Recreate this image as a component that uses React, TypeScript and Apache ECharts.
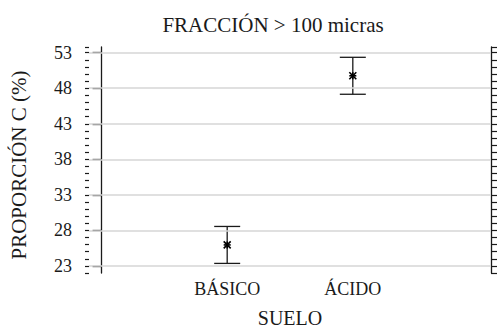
import React, { useEffect, useRef } from "react";
import * as echarts from "echarts";

const categories = ["BÁSICO", "ÁCIDO"];
const categoryPositions = [1, 2];
const means = [25.95, 49.75];
const errors = [2.6, 2.6];
const majorTicks = [23, 28, 33, 38, 43, 48, 53];

const FONT = "Liberation Serif";
const INK = "#1a1a1a";

export default function App() {
  const ref = useRef<HTMLDivElement>(null);
  useEffect(() => {
    if (!ref.current) return;
    const chart = echarts.init(ref.current, undefined, { renderer: "svg" });
    const yMin = 22;
    const yMax = 53.8;
    const data = categoryPositions.map((x, i) => [x, means[i], errors[i]]);
    const option: any = {
      animation: false,
      backgroundColor: "#ffffff",
      textStyle: { fontFamily: FONT },
      grid: { left: 89, right: 7, top: 47, bottom: 56, containLabel: false, outerBoundsMode: "none" },
      graphic: [
        {
          type: "text",
          x: 273,
          y: 25,
          style: {
            text: "FRACCIÓN > 100 micras",
            fontFamily: FONT,
            fontSize: 21,
            fill: INK,
            textAlign: "center",
            textVerticalAlign: "middle",
          },
        },
        {
          type: "text",
          x: 19,
          y: 165,
          rotation: Math.PI / 2,
          style: {
            text: "PROPORCIÓN C (%)",
            fontFamily: FONT,
            fontSize: 21,
            fill: INK,
            textAlign: "center",
            textVerticalAlign: "middle",
          },
        },
      ],
      xAxis: {
        type: "value",
        min: -0.1,
        max: 3.1,
        axisLine: { show: false },
        axisTick: { show: false },
        splitLine: { show: false },
        axisLabel: {
          customValues: categoryPositions,
          formatter: (v: number) => categories[categoryPositions.indexOf(v)] ?? "",
          fontFamily: FONT,
          fontSize: 18,
          color: INK,
          margin: 7,
        },
        name: "SUELO",
        nameLocation: "middle",
        nameGap: 35,
        nameTextStyle: { fontFamily: FONT, fontSize: 20, color: INK, lineHeight: 20 },
      },
      yAxis: [
        {
          type: "value",
          position: "left",
          min: yMin,
          max: yMax,
          axisLine: { show: true, lineStyle: { color: INK, width: 1.3 } },
          axisTick: {
            show: true,
            customValues: majorTicks,
            length: 9,
            lineStyle: { color: INK, width: 1.3 },
          },
          axisLabel: {
            customValues: majorTicks,
            fontFamily: FONT,
            fontSize: 18,
            color: INK,
            margin: 17,
          },
          splitLine: { show: false },
        },
        {
          type: "value",
          position: "left",
          min: yMin,
          max: yMax,
          interval: 1,
          axisLine: { show: false },
          axisTick: { show: true, length: 4, lineStyle: { color: INK, width: 1.2 } },
          axisLabel: { show: false },
          splitLine: { show: false },
        },
        {
          type: "value",
          position: "right",
          min: yMin,
          max: yMax,
          interval: 1,
          axisLine: { show: true, lineStyle: { color: INK, width: 1.3 } },
          axisTick: { show: true, length: 6, lineStyle: { color: INK, width: 1.2 } },
          axisLabel: { show: false },
          splitLine: { show: false },
        },
      ],
      series: [
        {
          type: "line",
          data: [],
          silent: true,
          markLine: {
            silent: true,
            symbol: "none",
            label: { show: false },
            lineStyle: { color: "#d6d6d6", width: 1.5, type: "solid" },
            data: majorTicks.map((v) => ({ yAxis: v })),
          },
        },
        {
          type: "custom",
          data,
          renderItem: (params: any, api: any) => {
            const x = api.value(0);
            const m = api.value(1);
            const e = api.value(2);
            const top = api.coord([x, m + e]);
            const bot = api.coord([x, m - e]);
            const mid = api.coord([x, m]);
            const cap = 13;
            const r = 3.5;
            const ls = { stroke: INK, lineWidth: 1.3 };
            const ms = { stroke: "#000", lineWidth: 1.6 };
            return {
              type: "group",
              children: [
                { type: "line", shape: { x1: top[0], y1: top[1], x2: bot[0], y2: bot[1] }, style: ls },
                { type: "line", shape: { x1: top[0] - cap, y1: top[1], x2: top[0] + cap, y2: top[1] }, style: ls },
                { type: "line", shape: { x1: bot[0] - cap, y1: bot[1], x2: bot[0] + cap, y2: bot[1] }, style: ls },
                { type: "line", shape: { x1: mid[0] - r, y1: mid[1] - r, x2: mid[0] + r, y2: mid[1] + r }, style: ms },
                { type: "line", shape: { x1: mid[0] - r, y1: mid[1] + r, x2: mid[0] + r, y2: mid[1] - r }, style: ms },
                { type: "line", shape: { x1: mid[0] - r, y1: mid[1], x2: mid[0] + r, y2: mid[1] }, style: ms },
                { type: "line", shape: { x1: mid[0], y1: mid[1] - r, x2: mid[0], y2: mid[1] + r }, style: ms },
              ],
            };
          },
        },
      ],
    };
    chart.setOption(option);
    return () => chart.dispose();
  }, []);
  return (
    <div
      ref={ref}
      style={{ position: "fixed", left: 0, top: 0, width: 498, height: 329 }}
    />
  );
}
